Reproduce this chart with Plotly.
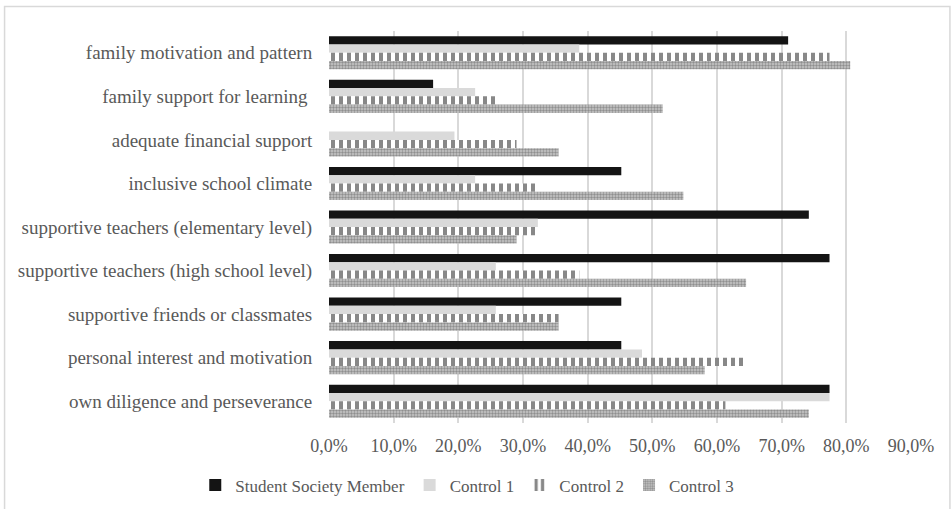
import plotly.graph_objects as go

categories = [
    "family motivation and pattern",
    "family support for learning ",
    "adequate financial support",
    "inclusive school climate",
    "supportive teachers (elementary level)",
    "supportive teachers (high school level)",
    "supportive friends or classmates",
    "personal interest and motivation",
    "own diligence and perseverance",
]
student_society = [0.710, 0.161, 0.0, 0.452, 0.742, 0.774, 0.452, 0.452, 0.774]
control_1 = [0.387, 0.226, 0.194, 0.226, 0.323, 0.258, 0.258, 0.484, 0.774]
control_2 = [0.774, 0.258, 0.290, 0.323, 0.323, 0.387, 0.355, 0.645, 0.613]
control_3 = [0.806, 0.516, 0.355, 0.548, 0.290, 0.645, 0.355, 0.581, 0.742]
tick_vals = [0, 0.1, 0.2, 0.3, 0.4, 0.5, 0.6, 0.7, 0.8, 0.9]

W, H = 952, 509
L, R, T, B = 328.5, 40.5, 31, 85.5
pw, ph = W - L - R, H - T - B

FONT = "Liberation Serif"

fig = go.Figure()
fig.add_trace(go.Bar(y=categories, x=student_society, orientation="h",
                     name="Student Society Member",
                     marker=dict(color="#141414", line=dict(width=0))))
fig.add_trace(go.Bar(y=categories, x=control_1, orientation="h",
                     name="Control 1",
                     marker=dict(color="#dadada", line=dict(width=0))))
fig.add_trace(go.Bar(y=categories, x=control_2, orientation="h",
                     name="Control 2",
                     marker=dict(color="#d0d0d0", line=dict(width=0),
                                 pattern=dict(shape="|", fgcolor="#111111",
                                              bgcolor="#ffffff", size=8,
                                              solidity=0.5))))
fig.add_trace(go.Bar(y=categories, x=control_3, orientation="h",
                     name="Control 3",
                     marker=dict(color="#9a9a9a", line=dict(width=0),
                                 pattern=dict(shape=".", fgcolor="#555555",
                                              bgcolor="#c8c8c8", size=3,
                                              solidity=0.5))))

fig.add_shape(type="rect", xref="paper", yref="paper",
              x0=(3.5 - L) / pw, x1=(950.5 - L) / pw,
              y0=(H - B - 515) / ph, y1=(H - B - 6.5) / ph,
              line=dict(color="#d9d9d9", width=1.5), fillcolor="rgba(0,0,0,0)",
              layer="below")

fig.update_layout(
    width=W, height=H,
    margin=dict(l=L, r=R, t=T, b=B, pad=0, autoexpand=False),
    paper_bgcolor="white", plot_bgcolor="white",
    barmode="group", bargap=0.24, bargroupgap=0,
    separators=", ",
    font=dict(family=FONT, size=17, color="#595959"),
    xaxis=dict(range=[0, 0.9], tickvals=tick_vals, tickformat=".1%",
               showgrid=True, gridcolor="#d9d9d9", gridwidth=1.5,
               zeroline=False, showline=False, ticks="outside", ticklen=6,
               tickcolor="rgba(0,0,0,0)", automargin=False,
               tickfont=dict(family=FONT, size=18, color="#595959")),
    yaxis=dict(autorange="reversed", showgrid=False, zeroline=False,
               showline=False, ticks="outside", ticklen=12, tickcolor="rgba(0,0,0,0)",
               automargin=False,
               tickfont=dict(family=FONT, size=19, color="#595959")),
    legend=dict(orientation="h", x=(467 - L) / pw, xanchor="center",
                y=(H - B - 486) / ph, yanchor="middle",
                font=dict(family=FONT, size=17, color="#595959"), itemwidth=30,
                tracegroupgap=0, bgcolor="rgba(0,0,0,0)"),
    showlegend=True,
)

fig.write_html("out.html")
